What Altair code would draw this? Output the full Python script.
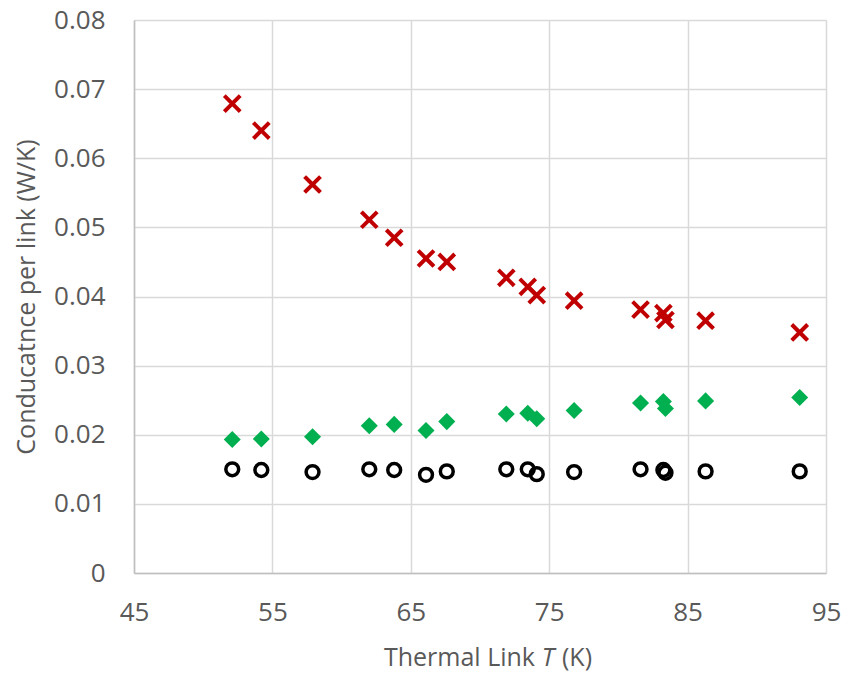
import altair as alt
import pandas as pd

T = [52.1, 54.2, 57.9, 62.0, 63.8, 66.1, 67.6, 71.9, 73.45, 74.1, 76.8, 81.6, 83.25, 83.4, 86.3, 93.1]
red_x = [0.0679, 0.0640, 0.0562, 0.0511, 0.0485, 0.0455, 0.0450, 0.0427, 0.0414, 0.0402, 0.0394, 0.0381, 0.0376, 0.0366, 0.0365, 0.0348]
green_d = [0.0193, 0.0194, 0.0197, 0.0213, 0.0215, 0.0206, 0.0219, 0.0230, 0.0231, 0.0223, 0.0235, 0.0246, 0.0248, 0.0238, 0.0249, 0.0254]
black_o = [0.0150, 0.0149, 0.0146, 0.0150, 0.0149, 0.0142, 0.0147, 0.0150, 0.0150, 0.0143, 0.0146, 0.0150, 0.0149, 0.0145, 0.0147, 0.0147]
x_ticks = [45, 55, 65, 75, 85, 95]
y_ticks = [0, 0.01, 0.02, 0.03, 0.04, 0.05, 0.06, 0.07, 0.08]

df = pd.DataFrame({"T": T, "red": red_x, "green": green_d, "black": black_o})

FONT = "Open Sans"
GRAY = "#595959"
FS = 26
W, H = 692, 553

xscale = alt.Scale(domain=[45, 95], nice=False, zero=False)
yscale = alt.Scale(domain=[0, 0.08], nice=False)

xaxis = alt.Axis(values=x_ticks, title=None, labelFlush=False, labelOverlap=False,
                 grid=True, gridColor="#d9d9d9", gridWidth=1.5, ticks=False,
                 domain=True, domainColor="#bfbfbf", domainWidth=1.5,
                 labelFont=FONT, labelFontSize=FS, labelColor=GRAY, labelPadding=26)
yaxis = alt.Axis(values=y_ticks, title="Conducatnce per link (W/K)",
                 labelExpr="datum.value == 0 ? '0' : format(datum.value, '.2f')",
                 labelFlush=False, labelOverlap=False,
                 grid=True, gridColor="#d9d9d9", gridWidth=1.5, ticks=False,
                 domain=True, domainColor="#bfbfbf", domainWidth=1.5,
                 labelFont=FONT, labelFontSize=FS, labelColor=GRAY, labelPadding=29,
                 titleFont=FONT, titleFontSize=25, titleColor=GRAY, titleFontWeight="normal",
                 titleX=-108, titleY=H / 2, titleAngle=-90, titleAlign="center", titleBaseline="middle")

base = alt.Chart(df)

xpath = "M-1,-1L1,1M-1,1L1,-1"
reds = base.mark_point(shape=xpath, filled=False, stroke="#c00000", strokeWidth=4,
                       size=170, opacity=1, strokeCap="square").encode(
    x=alt.X("T:Q", scale=xscale, axis=xaxis),
    y=alt.Y("red:Q", scale=yscale, axis=yaxis))
greens = base.mark_point(shape="diamond", filled=True, color="#00b050", size=290, opacity=1).encode(
    x=alt.X("T:Q", scale=xscale),
    y=alt.Y("green:Q", scale=yscale))
blacks = base.mark_point(shape="circle", filled=False, stroke="black", strokeWidth=3.5,
                         size=165, opacity=1).encode(
    x=alt.X("T:Q", scale=xscale),
    y=alt.Y("black:Q", scale=yscale))

# x-axis title with an italic T
title_y = 638
tdf = pd.DataFrame({"a": [0]})
tb = alt.Chart(tdf)
t1 = tb.mark_text(text="Thermal Link", font=FONT, fontSize=25, color=GRAY, align="right",
                  baseline="middle").encode(x=alt.value(401), y=alt.value(title_y))
t2 = tb.mark_text(text="T", font=FONT, fontSize=25, fontStyle="italic", color=GRAY, align="center",
                  baseline="middle").encode(x=alt.value(414), y=alt.value(title_y))
t3 = tb.mark_text(text="(K)", font=FONT, fontSize=25, color=GRAY, align="left",
                  baseline="middle").encode(x=alt.value(428), y=alt.value(title_y))

chart = alt.layer(reds, greens, blacks, t1, t2, t3).properties(
    width=W, height=H,
    autosize=alt.AutoSizeParams(type="none"),
    padding={"left": 126, "top": 12, "right": 16, "bottom": 99},
).configure_view(stroke=None)

chart.save("out.html", embed_options={"renderer": "svg", "actions": False})
